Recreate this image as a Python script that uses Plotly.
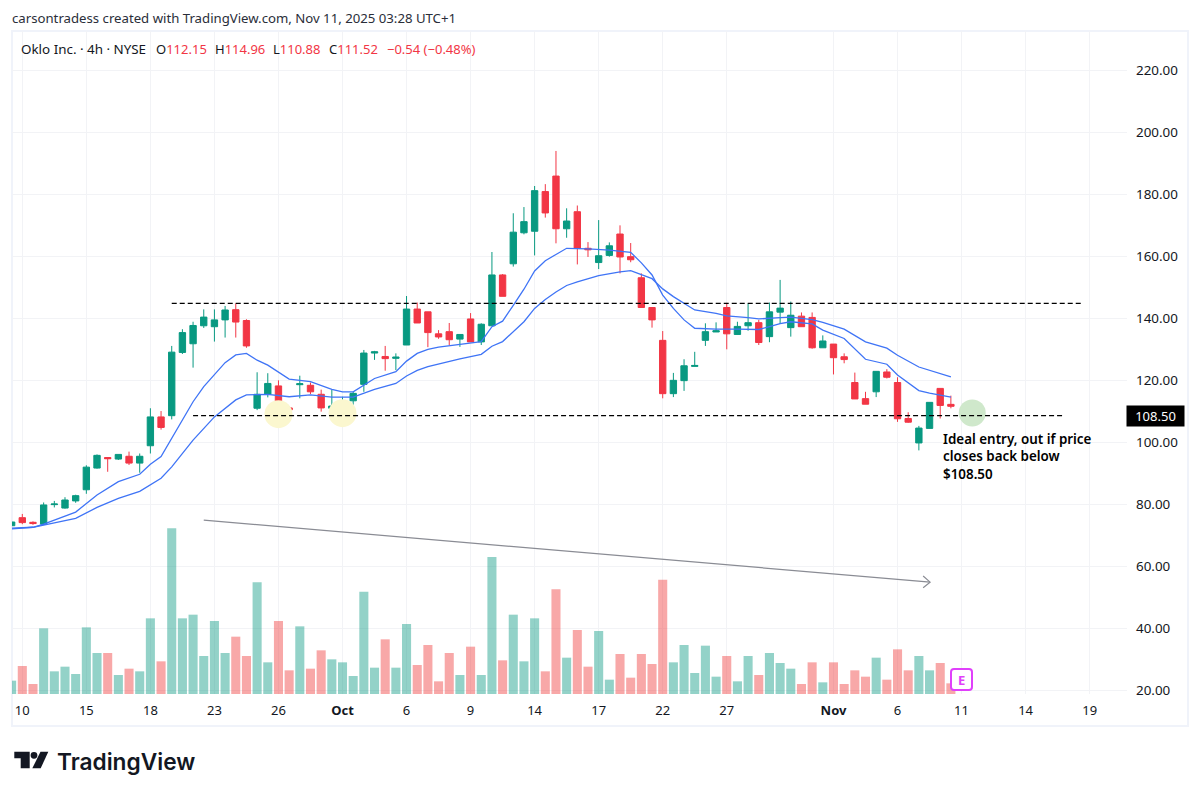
import plotly.graph_objects as go

FONT = "Noto Sans"
UP = "#089981"
DOWN = "#f23645"
VOL_DOWN = "#ee3a3a"
TEXT = "#131722"

BAR_INDEX = list(range(-1, 88))
OPEN = [73.0,75.6,74.1,73.5,79.8,78.7,81.0,84.6,91.6,95.0,94.5,95.4,93.2,98.8,108.1,108.5,128.9,131.7,137.5,137.2,139.4,142.7,139.2,110.9,115.4,118.1,111.0,118.5,118.3,115.4,110.9,112.7,113.3,118.6,128.7,127.6,127.0,131.3,142.9,142.0,134.9,135.6,133.2,139.7,132.3,137.5,153.9,157.5,167.5,168.0,180.8,185.8,168.8,174.3,162.5,157.9,160.2,167.1,159.8,153.0,143.4,132.8,115.6,119.8,124.4,132.8,135.5,143.4,134.7,137.5,138.5,134.0,141.9,136.9,140.6,140.2,130.4,131.6,127.5,119.2,114.0,116.2,122.6,119.2,107.6,99.7,104.4,117.3,112.15]
HIGH = [74.3,76.8,74.4,80.5,81.0,82.2,83.0,92.5,96.0,95.0,96.0,96.9,96.3,110.9,110.0,131.0,136.4,138.8,142.8,142.8,143.9,144.7,139.6,122.5,122.2,119.9,111.6,121.4,119.2,116.9,116.8,114.6,116.2,129.7,129.4,131.0,128.6,147.1,145.0,142.0,136.1,138.4,134.7,141.6,138.3,161.3,154.2,173.8,175.8,182.6,183.2,193.9,175.4,176.3,164.5,171.6,164.4,169.9,164.2,154.4,143.4,135.8,122.3,126.7,129.1,138.3,138.6,144.9,138.8,144.7,139.4,145.0,152.3,145.3,141.8,141.8,134.4,131.6,128.6,122.4,116.2,122.8,123.5,120.9,109.6,105.2,112.8,117.3,114.96]
LOW = [72.9,73.5,73.3,73.2,78.9,78.5,80.4,83.3,91.4,90.4,94.2,92.6,90.1,96.3,104.0,107.3,128.4,124.0,136.8,132.4,133.7,133.7,130.4,110.3,114.4,108.8,109.0,114.1,115.5,109.8,110.3,109.5,112.0,116.2,126.5,123.0,123.2,131.3,138.4,130.6,133.3,131.3,130.7,132.3,131.3,137.5,147.0,156.6,167.0,160.2,172.4,164.1,165.9,157.3,159.7,155.8,159.8,154.4,158.0,143.4,136.9,114.1,114.5,116.5,124.4,131.0,135.5,129.9,134.6,135.9,131.3,132.2,138.1,134.0,137.2,130.1,130.4,121.8,125.4,113.9,112.2,114.5,120.5,106.5,106.2,97.3,104.4,107.6,110.88]
CLOSE = [74.2,74.0,73.7,79.7,80.0,81.3,82.7,91.9,95.7,94.6,96.0,93.2,95.4,108.1,104.7,129.0,135.3,137.6,140.3,139.4,142.6,138.7,131.0,115.4,118.9,111.0,110.4,118.8,116.2,111.0,111.6,113.4,115.7,128.7,129.1,126.9,127.4,142.9,138.4,135.3,133.9,133.0,134.7,132.3,138.0,153.9,147.0,167.7,171.1,181.1,173.9,168.8,171.3,162.5,162.0,160.1,163.3,159.7,158.8,143.4,139.4,115.6,119.9,124.6,124.7,135.6,135.9,134.9,137.3,138.5,132.1,142.0,143.2,140.9,137.2,130.4,132.6,127.2,126.6,113.9,112.2,122.8,120.9,107.5,106.4,104.5,112.8,111.8,111.52]
VOLUME = [40,84,30,197,68,82,60,200,123,123,57,76,68,227,98,497,227,238,114,219,123,172,114,335,95,219,71,203,76,131,104,95,54,307,79,164,79,210,87,147,38,123,57,142,57,411,101,238,98,227,68,314,109,192,82,189,43,120,49,120,90,343,95,147,63,145,52,114,38,114,57,123,93,76,30,95,35,95,30,71,52,109,43,134,71,114,71,93,32]

FAST_K = [-1,1,2,5,7,9,11,12,13,14,16,17,19,20,21,22,23,25,27,29,30,31,32,33,35,36,37,38,39,42,43,44,45,46,47,48,49,50,51,53,55,57,58,59,60,61,62,63,65,67,69,70,71,72,74,75,77,79,81,82,84,85,87]
FAST_P = [72.2,72.5,73.5,77.4,82.9,87.2,89.6,92.8,95.3,101.2,113.0,117.9,125.6,128.1,128.6,126.4,124.8,120.3,119.5,117.0,116.2,116.2,118.4,120.5,122.7,126.1,128.6,129.9,130.6,131.9,132.4,137.2,139.0,144.1,149.3,155.2,158.5,160.5,162.5,162.3,161.9,161.2,157.8,153.9,147.4,143.1,139.4,136.7,136.4,136.4,136.3,137.2,138.2,138.8,138.1,136.1,133.4,126.7,125.1,121.6,116.6,115.8,114.5]
SLOW_K = [-1,1,2,5,7,9,11,12,13,14,16,18,20,21,23,25,27,29,31,33,35,36,37,38,39,41,43,44,45,46,47,48,49,50,51,52,54,56,57,59,60,61,63,65,66,68,69,71,72,74,75,77,79,81,82,84,85,87]
SLOW_P = [72.0,72.5,73.2,75.4,78.9,81.8,84.1,86.3,88.3,92.0,100.6,108.1,113.6,115.2,115.4,114.6,115.2,114.5,114.5,117.0,118.9,121.3,123.1,124.3,125.2,126.8,128.3,130.9,132.4,135.5,138.8,143.1,146.0,148.4,150.5,151.7,153.7,154.9,155.3,152.7,149.4,146.9,142.6,141.5,140.7,140.1,139.7,140.1,140.3,139.5,138.6,136.4,132.3,130.3,128.0,124.2,123.1,121.0]

TICK_POS = [0,6,12,18,24,30,36,42,48,54,60,66,76,82,88,94,100]
TICK_TEXT = ["10","15","18","23","26","<b>Oct</b>","6","9","14","17","22","27","<b>Nov</b>","6","11","14","19"]
PRICE_TICKS = [20,40,60,80,100,120,140,160,180,200,220]

RESISTANCE = 144.7
SUPPORT = 108.5
RES_SPAN = [14, 99.3]
SUP_SPAN = [16, 97.6]
ARROW_K = [17, 85.05]
ARROW_P = [74.8, 54.8]
HEAD_K = [84.4, 85.05, 84.4]
HEAD_P = [56.8, 54.8, 53.0]
YELLOW_K = [24, 30]
YELLOW_P = [109.0, 109.3]
GREEN_K = [89]
GREEN_P = [109.4]

# page coordinates of the plot pane; the page body adds an 8px margin around the figure
BODY = 8
W, H = 1200 - 2 * BODY, 795 - 2 * BODY
L, R, T, B = 12, 1127, 31, 694
def px(x): return (x - L) / (R - L)
def py(y): return (B - y) / (B - T)

fig = go.Figure()
colors = [UP if c >= o else VOL_DOWN for o, c in zip(OPEN, CLOSE)]
fig.add_trace(go.Bar(x=BAR_INDEX, y=VOLUME, marker=dict(color=colors, opacity=0.44, line=dict(width=0)),
                     width=0.85, yaxis="y", hoverinfo="skip"))
fig.add_trace(go.Scatter(x=YELLOW_K, y=YELLOW_P, yaxis="y2", mode="markers",
                         marker=dict(size=28, color="#fbf7cf", line=dict(width=0)), hoverinfo="skip"))
fig.add_trace(go.Scatter(x=GREEN_K, y=GREEN_P, yaxis="y2", mode="markers",
                         marker=dict(size=27, color="#cfe8cb", line=dict(width=0)), hoverinfo="skip"))
fig.add_trace(go.Scatter(x=FAST_K, y=FAST_P, yaxis="y2", mode="lines", line=dict(color="#3f74f6", width=1.3), hoverinfo="skip"))
fig.add_trace(go.Scatter(x=SLOW_K, y=SLOW_P, yaxis="y2", mode="lines", line=dict(color="#3f74f6", width=1.3), hoverinfo="skip"))
fig.add_trace(go.Candlestick(x=BAR_INDEX, open=OPEN, high=HIGH, low=LOW, close=CLOSE, yaxis="y2", whiskerwidth=0,
                             increasing=dict(line=dict(color=UP, width=1), fillcolor=UP),
                             decreasing=dict(line=dict(color=DOWN, width=1), fillcolor=DOWN), hoverinfo="skip"))
for span, level in ((RES_SPAN, RESISTANCE), (SUP_SPAN, SUPPORT)):
    fig.add_trace(go.Scatter(x=span, y=[level, level], yaxis="y2", mode="lines",
                             line=dict(color="#000000", width=1.3, dash="5px,3px"), hoverinfo="skip"))
fig.add_trace(go.Scatter(x=ARROW_K, y=ARROW_P, yaxis="y2", mode="lines", line=dict(color="#8a8c94", width=1.2), hoverinfo="skip"))
fig.add_trace(go.Scatter(x=HEAD_K, y=HEAD_P, yaxis="y2", mode="lines", line=dict(color="#8a8c94", width=1.2), hoverinfo="skip"))

def note(x, y, text, size=13, color=TEXT, anchor="left", weight=None, family=FONT):
    fig.add_annotation(xref="paper", yref="paper", x=px(x), y=py(y), text=text, showarrow=False,
                       xanchor=anchor, yanchor="middle", align="left",
                       font=dict(family=family, size=size, color=color, weight=weight))

note(10, 18, "carsontradess created with TradingView.com, Nov 11, 2025 03:28 UTC+1", size=13.2, color="#2a2e39")
note(19, 49, "Oklo Inc. · 4h · NYSE", size=13.4)
red = lambda s: f'<span style="color:{DOWN}">{s}</span>'
note(154, 49, "O" + red("112.15"))
note(213, 49, "H" + red("114.96"))
note(271, 49, "L" + red("110.88"))
note(327, 49, "C" + red("111.52"))
note(385, 49, red("−0.54 (−0.48%)"))

note(941, 457, "Ideal entry, out if price<br>closes back below<br>$108.50", size=13.4, color="#000000", weight=600)

fig.add_annotation(xref="paper", yref="y2", x=px(1155.5), y=SUPPORT, text="108.50", showarrow=False,
                   xanchor="center", yanchor="middle", bgcolor="#000000", width=55, height=18,
                   font=dict(family=FONT, size=13, color="#ffffff"))

# earnings badge
x0, x1, y0, y1, r = 951, 972, 669, 690, 3
def rounded(x0, x1, y0, y1, r):
    return (f"M {px(x0+r)} {py(y0)} L {px(x1-r)} {py(y0)} Q {px(x1)} {py(y0)} {px(x1)} {py(y0+r)} "
            f"L {px(x1)} {py(y1-r)} Q {px(x1)} {py(y1)} {px(x1-r)} {py(y1)} L {px(x0+r)} {py(y1)} "
            f"Q {px(x0)} {py(y1)} {px(x0)} {py(y1-r)} L {px(x0)} {py(y0+r)} Q {px(x0)} {py(y0)} {px(x0+r)} {py(y0)} Z")
shapes = [
    dict(type="path", xref="paper", yref="paper", path=rounded(x0, x1, y0, y1, r), fillcolor="#ffffff",
         line=dict(color="#e040fb", width=2), layer="above"),
    dict(type="rect", xref="paper", yref="paper", x0=px(12), x1=px(1188), y0=py(31), y1=py(726),
         line=dict(color="#f0f3fa", width=2), layer="below"),
    # TradingView mark
    dict(type="path", xref="paper", yref="paper", fillcolor="#131722", line=dict(width=0),
         path=f"M {px(14.3)} {py(751.7)} L {px(29.7)} {py(751.7)} L {px(29.7)} {py(768.3)} L {px(20.7)} {py(768.3)} "
              f"L {px(20.7)} {py(758.3)} L {px(14.3)} {py(758.3)} Z"),
    dict(type="circle", xref="paper", yref="paper", fillcolor="#131722", line=dict(width=0),
         x0=px(30.6), x1=px(37.4), y0=py(751.9), y1=py(758.7)),
    dict(type="path", xref="paper", yref="paper", fillcolor="#131722", line=dict(width=0),
         path=f"M {px(40.5)} {py(751.7)} L {px(48.3)} {py(751.7)} L {px(40.7)} {py(768.3)} L {px(32.3)} {py(768.3)} Z"),
]
note(961.5, 680, "E", size=13, color="#e040fb", anchor="center", weight=700)
note(55, 761, "TradingView", size=22.7, anchor="left", weight=600, family="Inter", color="#131722")

fig.update_layout(
    width=W, height=H, autosize=False,
    margin=dict(l=L - BODY, r=W - (R - BODY), t=T - BODY, b=H - (B - BODY)),
    paper_bgcolor="#ffffff", plot_bgcolor="#ffffff",
    showlegend=False, barmode="overlay", boxgap=0.15, shapes=shapes,
    font=dict(family=FONT, size=13, color=TEXT),
    xaxis=dict(range=[-0.965, 103.5], tickmode="array", tickvals=TICK_POS, ticktext=TICK_TEXT,
               showgrid=True, gridcolor="#f2f3f6", gridwidth=1, zeroline=False, showline=False, ticks="",
               rangeslider=dict(visible=False), ticklabelstandoff=7,
               tickfont=dict(family=FONT, size=13, color=TEXT)),
    yaxis=dict(range=[0, 1989], visible=False, showgrid=False, zeroline=False),
    yaxis2=dict(range=[18.71, 232.6], overlaying="y", side="right", tickmode="array", tickvals=PRICE_TICKS,
                ticktext=[f"{v:.2f}" for v in PRICE_TICKS], showgrid=True, gridcolor="#f2f3f6", gridwidth=1,
                zeroline=False, showline=False, ticks="", ticklabelstandoff=8,
                tickfont=dict(family=FONT, size=13.4, color=TEXT)),
)
fig.write_html("out.html")
